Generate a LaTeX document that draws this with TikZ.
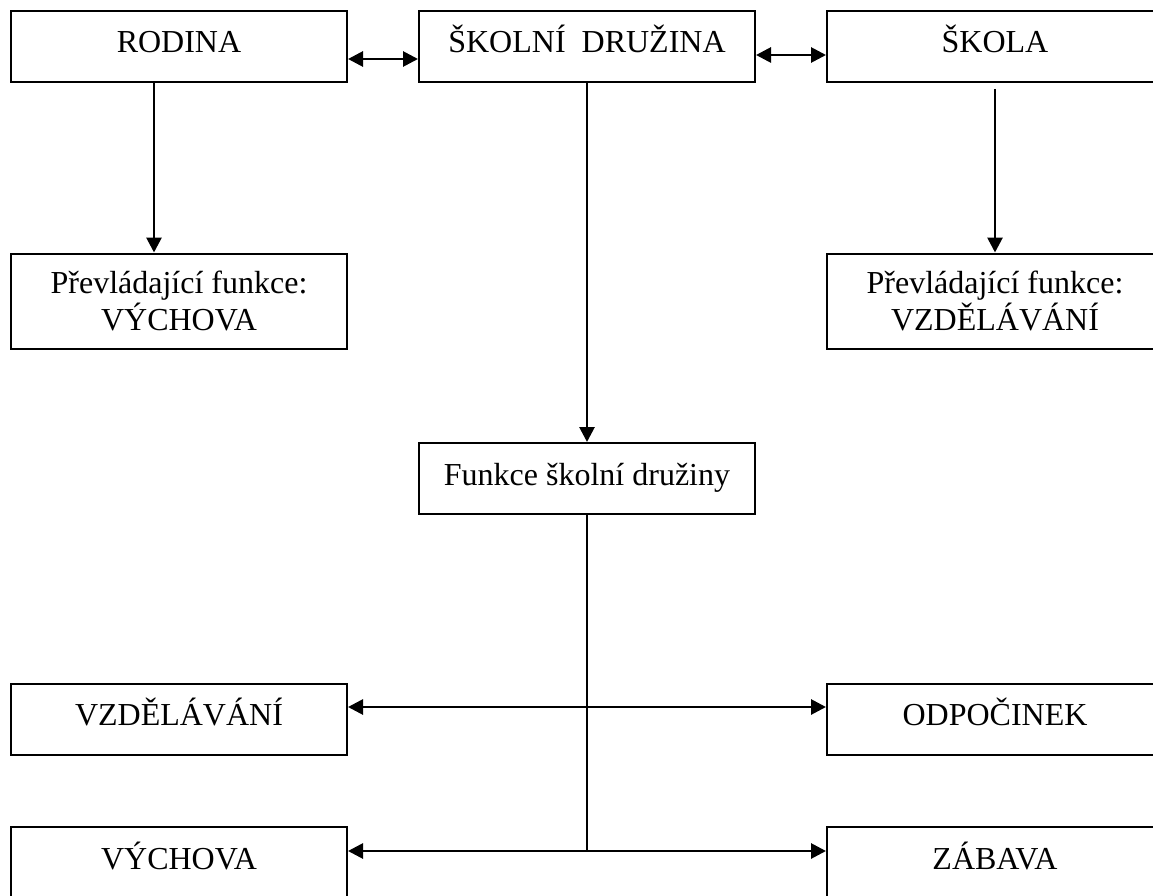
\documentclass[tikz,border=0pt]{standalone}
\usepackage{fontspec}
\setmainfont{Liberation Serif}
\usetikzlibrary{arrows.meta}
\begin{document}
\begin{tikzpicture}[x=1pt,y=-1pt,
  box/.style={draw,line width=2pt,minimum width=336pt,inner sep=0pt,
    font=\fontsize{32}{37}\selectfont},
  onebox/.style={box,minimum height=71pt,text height=22pt,text depth=9pt},
  twobox/.style={box,minimum height=95pt,align=center},
  conn/.style={line width=2.8pt,{Triangle[length=15pt,width=15pt]}-{Triangle[length=15pt,width=15pt]}},
  down/.style={line width=2.8pt,-{Triangle[length=15pt,width=15pt]}},
  plain/.style={line width=2pt}]
\useasboundingbox (0,0) rectangle (1153,896);
\clip (0,0) rectangle (1153,896);
\node[onebox] (rodina) at (179,46.5) {RODINA};
\node[onebox] (druzina) at (587,46.5) {ŠKOLNÍ\ \ DRUŽINA};
\node[onebox] (skola) at (995,46.5) {ŠKOLA};
\node[twobox] (pv) at (179,301) {Převládající funkce:\\VÝCHOVA};
\node[twobox] (pz) at (995,301) {Převládající funkce:\\VZDĚLÁVÁNÍ};
\node[onebox] (funkce) at (587,478.5) {Funkce školní družiny};
\node[onebox] (vzdel) at (179,719) {VZDĚLÁVÁNÍ};
\node[onebox] (odp) at (995,719) {ODPOČINEK};
\node[onebox] (vych) at (179,862.5) {VÝCHOVA};
\node[onebox] (zab) at (995,862.5) {ZÁBAVA};
\coordinate (j1) at (587,707);
\coordinate (j2) at (587,851);
\draw[conn] ([yshift=-12.5pt]rodina.east) -- ([yshift=-12.5pt]druzina.west);
\draw[conn] ([yshift=-8.5pt]druzina.east) -- ([yshift=-8.5pt]skola.west);
\draw[down] ([xshift=-25pt]rodina.south) -- ([xshift=-25pt]pv.north);
\draw[down] ([yshift=-6pt]skola.south) -- (pz.north);
\draw[down] (druzina.south) -- (funkce.north);
\draw[plain] (funkce.south) -- (j2);
\draw[conn] (vzdel.east |- j1) -- (odp.west |- j1);
\draw[conn] (vych.east |- j2) -- (zab.west |- j2);
\end{tikzpicture}
\end{document}
